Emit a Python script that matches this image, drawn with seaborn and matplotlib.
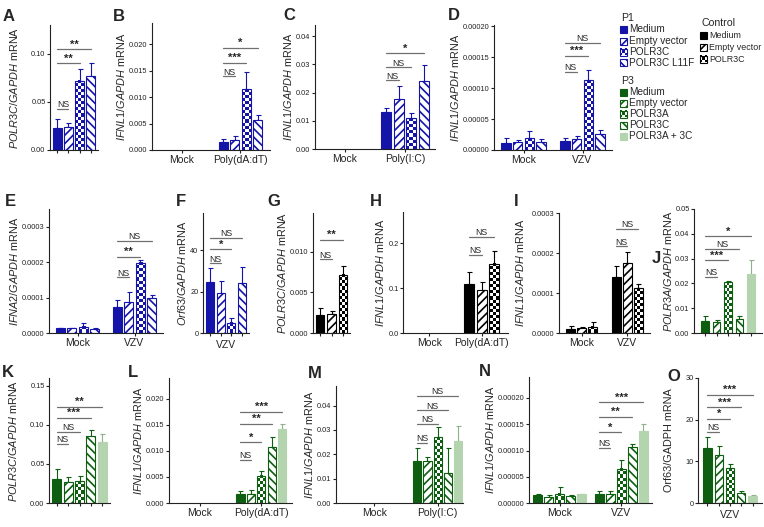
import numpy as np
import pandas as pd
import matplotlib
matplotlib.use('Agg')
import matplotlib.pyplot as plt
from matplotlib.colors import ListedColormap
from matplotlib.patches import Rectangle
import seaborn as sns

# ---- data ----
A_vals = [[0.023, 0.024, 0.072, 0.077]]
A_errs = [[0.009, 0.004, 0.012, 0.014]]
A_sig = [(1, 'NS', 0.043), (2, '**', 0.090), (3, '**', 0.105)]

B_groups = ['Mock', 'Poly(dA:dT)']
B_vals = [[0, 0, 0, 0], [0.0015, 0.0019, 0.0115, 0.0056]]
B_errs = [[0, 0, 0, 0], [0.0005, 0.0007, 0.0033, 0.0010]]
B_sig = [(1, 'NS', 0.0139), (2, '***', 0.0165), (3, '*', 0.0193)]

C_groups = ['Mock', 'Poly(I:C)']
C_vals = [[0, 0, 0, 0], [0.0131, 0.0177, 0.0110, 0.0240]]
C_errs = [[0, 0, 0, 0], [0.0014, 0.0046, 0.0018, 0.0057]]
C_sig = [(1, 'NS', 0.0244), (2, 'NS', 0.029), (3, '*', 0.034)]

D_groups = ['Mock', 'VZV']
D_vals = [[1.2e-5, 1.3e-5, 1.9e-5, 1.3e-5], [1.4e-5, 1.7e-5, 1.13e-4, 2.6e-5]]
D_errs = [[0.7e-5, 0.3e-5, 1.1e-5, 0.5e-5], [0.6e-5, 0.5e-5, 1.6e-5, 0.6e-5]]
D_sig = [(1, 'NS', 1.26e-4), (2, '***', 1.52e-4), (3, 'NS', 1.73e-4)]

E_groups = ['Mock', 'VZV']
E_vals = [[1.3e-5, 1.3e-5, 1.8e-5, 1.2e-5], [7.4e-5, 8.8e-5, 1.98e-4, 9.9e-5]]
E_errs = [[0.2e-5, 0.2e-5, 1.1e-5, 0.2e-5], [1.9e-5, 2.8e-5, 0.8e-5, 0.7e-5]]
E_sig = [(1, 'NS', 1.57e-4), (2, '**', 2.15e-4), (3, 'NS', 2.6e-4)]

F_vals = [[24.5, 19.2, 5.0, 24.0]]
F_errs = [[7.0, 6.0, 2.2, 8.0]]
F_sig = [(1, 'NS', 33.6), (2, '*', 40.5), (3, 'NS', 46.0)]

G_vals = [[0.0022, 0.0024, 0.0072]]
G_errs = [[0.0009, 0.0003, 0.0011]]
G_sig = [(1, 'NS', 0.0091), (2, '**', 0.0115)]

H_groups = ['Mock', 'Poly(dA:dT)']
H_vals = [[0, 0, 0], [0.110, 0.096, 0.155]]
H_errs = [[0, 0, 0], [0.027, 0.017, 0.028]]
H_sig = [(1, 'NS', 0.175), (2, 'NS', 0.215)]

I_groups = ['Mock', 'VZV']
I_vals = [[1.1e-5, 1.2e-5, 1.6e-5], [1.40e-4, 1.76e-4, 1.12e-4]]
I_errs = [[0.6e-5, 0.3e-5, 1.2e-5], [0.27e-4, 0.27e-4, 0.1e-4]]
I_sig = [(1, 'NS', 2.17e-4), (2, 'NS', 2.6e-4)]

J_vals = [[0.0050, 0.0045, 0.0205, 0.0055, 0.0238]]
J_errs = [[0.0017, 0.0008, 0.0005, 0.0013, 0.0055]]
J_sig = [(1, 'NS', 0.0226), (2, '***', 0.0294), (3, 'NS', 0.034), (4, '*', 0.039)]

K_vals = [[0.031, 0.027, 0.028, 0.086, 0.078]]
K_errs = [[0.012, 0.006, 0.007, 0.008, 0.010]]
K_sig = [(1, 'NS', 0.0756), (2, 'NS', 0.091), (3, '***', 0.109), (4, '**', 0.123)]

L_groups = ['Mock', 'Poly(dA:dT)']
L_vals = [[0, 0, 0, 0, 0], [0.0018, 0.0018, 0.0052, 0.0108, 0.0142]]
L_errs = [[0, 0, 0, 0, 0], [0.0005, 0.0007, 0.0009, 0.0018, 0.0010]]
L_sig = [(1, 'NS', 0.0083), (2, '*', 0.0117), (3, '**', 0.0152), (4, '***', 0.0175)]

M_groups = ['Mock', 'Poly(I:C)']
M_vals = [[0, 0, 0, 0, 0], [0.0171, 0.0171, 0.027, 0.0125, 0.0254]]
M_errs = [[0, 0, 0, 0, 0], [0.0054, 0.0019, 0.004, 0.010, 0.0063]]
M_sig = [(1, 'NS', 0.0246), (2, 'NS', 0.0325), (3, 'NS', 0.038), (4, 'NS', 0.044)]

N_groups = ['Mock', 'VZV']
N_vals = [[1.6e-5, 1.2e-5, 1.8e-5, 1.3e-5, 1.7e-5], [1.7e-5, 1.8e-5, 6.5e-5, 1.07e-4, 1.37e-4]]
N_errs = [[0.2e-5, 0.4e-5, 1.2e-5, 0.3e-5, 0.1e-5], [0.5e-5, 0.5e-5, 1.7e-5, 0.5e-5, 1.4e-5]]
N_sig = [(1, 'NS', 1.05e-4), (2, '*', 1.35e-4), (3, '**', 1.64e-4), (4, '***', 1.92e-4)]

O_vals = [[13.2, 11.5, 8.3, 2.3, 1.7]]
O_errs = [[2.6, 2.2, 1.0, 0.7, 0.2]]
O_sig = [(1, 'NS', 17.0), (2, '*', 20.2), (3, '***', 23.0), (4, '***', 26.0)]

P1_labels = ['Medium', 'Empty vector', 'POLR3C', 'POLR3C L11F']
CT_labels = ['Medium', 'Empty vector', 'POLR3C']
P3_labels = ['Medium', 'Empty vector', 'POLR3A', 'POLR3C', 'POLR3A + 3C']

# ---- style ----
sns.set_theme(style='ticks')
plt.rcParams['font.family'] = ['Liberation Sans', 'DejaVu Sans']
plt.rcParams['mathtext.fontset'] = 'custom'
plt.rcParams['mathtext.rm'] = 'Liberation Sans'
plt.rcParams['mathtext.it'] = 'Liberation Sans:italic'
plt.rcParams['hatch.linewidth'] = 1.2

BLUE, BLACK, DGREEN, LGREEN = '#1414a8', '#000000', '#0e5e12', '#b4d4b0'
P1_STY = [('solid', BLUE), ('fwd', BLUE), ('check', BLUE), ('back', BLUE)]
CT_STY = [('solid', BLACK), ('fwd', BLACK), ('check', BLACK)]
P3_STY = [('solid', DGREEN), ('fwd', DGREEN), ('check', DGREEN), ('back', DGREEN), ('solid', LGREEN)]

W, H = 764, 527
fig = plt.figure(figsize=(W / 100, H / 100), dpi=100)


def px_axes(x0, y0, x1, y1):
    return fig.add_axes([x0 / W, 1 - y1 / H, (x1 - x0) / W, (y1 - y0) / H])


def checker(ax, x0, x1, y0, y1, col):
    p0 = ax.transData.transform((x0, y0))
    p1 = ax.transData.transform((x1, y1))
    ncol = max(1, int(round(abs(p1[0] - p0[0]) / 3)))
    nrow = max(1, int(round(abs(p1[1] - p0[1]) / 3)))
    arr = np.add.outer(np.arange(nrow), np.arange(ncol)) % 2
    ax.imshow(arr, cmap=ListedColormap(['white', col]), extent=(x0, x1, y0, y1),
              aspect='auto', interpolation='nearest', zorder=1.5, vmin=0, vmax=1)


def style_patch(p, kind, col):
    p.set_edgecolor(col)
    p.set_linewidth(0.8)
    if kind == 'solid':
        p.set_facecolor(col)
    elif kind == 'fwd':
        p.set_facecolor('white'); p.set_hatch('////')
    elif kind == 'back':
        p.set_facecolor('white'); p.set_hatch('\\\\\\\\')
    else:
        p.set_facecolor('none')


def panel(rect, groups, vals, errs, sty, ylim, yticks, yfmt, ylabel, sigs,
          width=0.8, gap=0.2, xlim=(-0.5, 1.5), xlabel=None, ypad=1.5):
    ax = px_axes(*rect)
    conds = [str(k) for k in range(len(sty))]
    df = pd.DataFrame([{'group': g, 'cond': c, 'val': vals[gi][ci]}
                       for gi, g in enumerate(groups) for ci, c in enumerate(conds)])
    sns.barplot(data=df, x='group', y='val', hue='cond', order=groups, hue_order=conds,
                palette={c: s[1] for c, s in zip(conds, sty)}, errorbar=None,
                width=width, gap=gap, saturation=1, legend=False, ax=ax)
    ax.set_xlim(*xlim)
    ax.set_ylim(*ylim)
    centers = {}
    bar_sets = list(ax.containers)
    for ci, cont in enumerate(bar_sets):
        kind, col = sty[ci]
        for gi, bar in enumerate(cont):
            x0, w, h = bar.get_x(), bar.get_width(), bar.get_height()
            centers[(gi, ci)] = x0 + w / 2
            bar.set_zorder(2)
            if h <= 0:
                bar.set_visible(False)
                continue
            style_patch(bar, kind, col)
            if kind == 'check':
                checker(ax, x0, x0 + w, 0, h, col)
            e = errs[gi][ci]
            if e > 0:
                ecol = '#8fb08c' if col == LGREEN else col
                ax.errorbar(x0 + w / 2, h, yerr=[[0], [e]], fmt='none', ecolor=ecol,
                            elinewidth=0.8, capsize=1.8, capthick=0.8, zorder=1.8)
    g = len(groups) - 1
    for j, txt, y in sigs:
        xa, xb = centers[(g, 0)], centers[(g, j)]
        ax.plot([xa, xb], [y, y], color='#707070', lw=0.9, clip_on=False, zorder=3)
        ax.annotate(txt, ((xa + xb) / 2, y), xytext=(0, 1.2), textcoords='offset points',
                    ha='center', va='baseline', fontsize=6.3 if txt == 'NS' else 8,
                    fontweight='normal' if txt == 'NS' else 'bold', annotation_clip=False)
    if len(groups) == 1:
        ax.set_xticks(sorted(centers.values()))
        ax.set_xticklabels([])
        ax.set_xlabel(xlabel or '', fontsize=7.5, labelpad=1)
    else:
        ax.set_xticks(range(len(groups)))
        ax.set_xticklabels(groups, fontsize=7.5)
        ax.set_xlabel('')
    ax.set_xlim(*xlim)
    ax.set_ylim(*ylim)
    ax.set_yticks(yticks)
    ax.set_yticklabels([yfmt.format(t) for t in yticks], fontsize=5.3)
    ax.set_ylabel(ylabel, fontsize=7.8, labelpad=ypad)
    ax.tick_params(length=2.2, width=0.8, pad=1, colors='#222222')
    ax.tick_params(axis='x', pad=1.5)
    for s in ['top', 'right']:
        ax.spines[s].set_visible(False)
    for s in ['left', 'bottom']:
        ax.spines[s].set_linewidth(0.8)
        ax.spines[s].set_color('#222222')
    ax.patch.set_alpha(0)
    return ax


def lab(it, rest=' mRNA'):
    return r'$\mathit{' + it + '}$' + rest


panel((50, 25, 98, 150), [''], A_vals, A_errs, P1_STY, (0, 0.13), [0, 0.05, 0.10], '{:.2f}',
      lab('POLR3C/GAPDH'), A_sig, width=0.92, gap=0.22, xlim=(-0.5, 0.5), ypad=8)
panel((152, 23, 270, 150), B_groups, B_vals, B_errs, P1_STY, (0, 0.024),
      [0, 0.005, 0.010, 0.015, 0.020], '{:.3f}', lab('IFNL1/GAPDH'), B_sig, width=0.78)
panel((315, 25, 435, 149), C_groups, C_vals, C_errs, P1_STY, (0, 0.044),
      [0, 0.01, 0.02, 0.03, 0.04], '{:.2f}', lab('IFNL1/GAPDH'), C_sig, width=0.83)
panel((494, 25, 612, 150), D_groups, D_vals, D_errs, P1_STY, (0, 0.000202),
      [0, 0.00005, 0.0001, 0.00015, 0.0002], '{:.5f}', lab('IFNL1/GAPDH'), D_sig, width=0.8)

panel((49, 209, 163, 333), E_groups, E_vals, E_errs, P1_STY, (0, 0.00035),
      [0, 0.0001, 0.0002, 0.0003], '{:.4f}', lab('IFNA2/GAPDH'), E_sig, width=0.8)
panel((203, 213, 249, 333), ['VZV'], F_vals, F_errs, P1_STY, (0, 58), [0, 20, 40], '{:.0f}',
      lab('Orf63/GAPDH'), F_sig, width=0.91, gap=0.2, xlim=(-0.5, 0.5), xlabel='VZV')
panel((313, 213, 350, 333), [''], G_vals, G_errs, CT_STY, (0, 0.0148), [0, 0.005, 0.010],
      '{:.3f}', lab('POLR3C/GAPDH'), G_sig, width=0.93, gap=0.25, xlim=(-0.5, 0.5))
panel((403, 212, 508, 333), H_groups, H_vals, H_errs, CT_STY, (0, 0.27), [0, 0.1, 0.2],
      '{:.1f}', lab('IFNL1/GAPDH'), H_sig, width=0.72)
panel((559, 213, 650, 333), I_groups, I_vals, I_errs, CT_STY, (0, 0.0003),
      [0, 0.0001, 0.0002, 0.0003], '{:.4f}', lab('IFNL1/GAPDH'), I_sig, width=0.72, ypad=4)
panel((694, 209, 762, 333), [''], J_vals, J_errs, P3_STY, (0, 0.05),
      [0, 0.01, 0.02, 0.03, 0.04, 0.05], '{:.2f}', lab('POLR3A/GAPDH'), J_sig,
      width=0.84, gap=0.32, xlim=(-0.5, 0.5), ypad=0.5)

panel((49, 378, 110, 503), [''], K_vals, K_errs, P3_STY, (0, 0.16), [0, 0.05, 0.10, 0.15],
      '{:.2f}', lab('POLR3C/GAPDH'), K_sig, width=0.93, gap=0.22, xlim=(-0.5, 0.5), ypad=8)
panel((169, 378, 292, 503), L_groups, L_vals, L_errs, P3_STY, (0, 0.024),
      [0, 0.005, 0.010, 0.015, 0.020], '{:.3f}', lab('IFNL1/GAPDH'), L_sig, width=0.85)
panel((336, 386, 463, 503), M_groups, M_vals, M_errs, P3_STY, (0, 0.048),
      [0, 0.01, 0.02, 0.03, 0.04], '{:.2f}', lab('IFNL1/GAPDH'), M_sig, width=0.8,
      xlim=(-0.6, 1.4))
panel((529, 377, 652, 503), N_groups, N_vals, N_errs, P3_STY, (0, 0.00024),
      [0, 0.00005, 0.0001, 0.00015, 0.0002], '{:.5f}', lab('IFNL1/GAPDH'), N_sig, width=0.9)
panel((698, 378, 762, 503), ['VZV'], O_vals, O_errs, P3_STY, (0, 30), [0, 10, 20, 30], '{:.0f}',
      'Orf63/GADPH mRNA', O_sig, width=0.88, gap=0.25, xlim=(-0.5, 0.5), xlabel='VZV', ypad=8)

# panel letters
letters = {'A': (3, 9), 'B': (113, 9), 'C': (283, 8), 'D': (448, 8), 'E': (5, 194),
           'F': (176, 194), 'G': (267, 194), 'H': (370, 194), 'I': (514, 194), 'J': (652, 251),
           'K': (2, 365), 'L': (128, 365), 'M': (308, 366), 'N': (479, 364), 'O': (667, 369)}
for k, (x, y) in letters.items():
    fig.text(x / W, 1 - y / H, k, fontsize=12, fontweight='bold', ha='left', va='top')

# legend drawn in pixel space
lax = fig.add_axes([0, 0, 1, 1])
lax.set_xlim(0, W)
lax.set_ylim(H, 0)
lax.axis('off')


def legend_block(x, y0, title, labels, sty, ys, fs=7.2):
    lax.text(x, y0, title, fontsize=7.6, va='center', ha='left')
    for name, (kind, col), y in zip(labels, sty, ys):
        r = Rectangle((x - 1, y - 3.5), 7, 7, linewidth=0.6)
        lax.add_patch(r)
        style_patch(r, kind, col)
        if kind == 'check':
            arr = np.array([[1, 0, 1], [0, 1, 0], [1, 0, 1]])
            lax.imshow(arr, cmap=ListedColormap(['white', col]), extent=(x - 1, x + 6, y + 3.5, y - 3.5),
                       aspect='auto', interpolation='nearest', zorder=0.5)
            r.set_zorder(1)
        lax.text(x + 8, y, name, fontsize=fs, va='center', ha='left')


legend_block(621, 18, 'P1', P1_labels, P1_STY, [29.5, 41, 52, 62.5])
legend_block(701, 23, 'Control', CT_labels, CT_STY, [35, 47, 59], fs=6.4)
legend_block(621, 81, 'P3', P3_labels, P3_STY, [92, 103, 114, 125, 136])
lax.set_xlim(0, W)
lax.set_ylim(H, 0)

fig.savefig('out.png', dpi=100, facecolor='white')
